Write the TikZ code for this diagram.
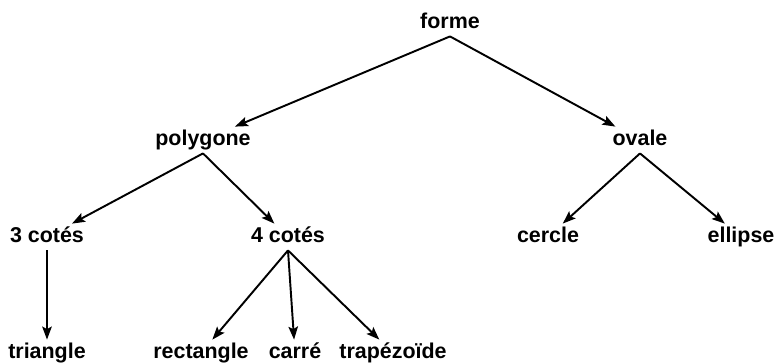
\documentclass[tikz,border=0pt]{standalone}
\usepackage{fontspec}
\setmainfont{Liberation Sans}
\usetikzlibrary{arrows.meta,positioning}
\tikzset{
	concept/.style={
		font=\bfseries\fontsize{12.2}{14}\selectfont,
		text height=1.5ex,
		text depth=.25ex,
		inner xsep=2pt,
		inner ysep=3pt,
		outer sep=0pt,
	},
}

\begin{document}
\begin{tikzpicture}[on grid,>={Stealth[length=2.6mm,width=1.9mm,inset=0.5mm]},line width=1.1pt]
	\useasboundingbox (0,0) rectangle (15.5,-7.26);
	\node [concept] (forme) at (9,-0.46) {forme};
	
	\node [concept] (polygone) [below left=2.34cm and 4.94cm of forme] {polygone};
	\node [concept] (ovale) [below right=2.34cm and 3.8cm of forme] {ovale};
	
	\node [concept] (3cotes) [below left=1.94cm and 3.12cm of polygone] {3 cotés};
	\node [concept] (4cotes) [below right=1.94cm and 1.7cm of polygone] {4 cotés};
	\node [concept] (cercle) [below left=1.94cm and 1.84cm of ovale] {cercle};
	\node [concept] (ellipse) [below right=1.94cm and 2.02cm of ovale] {ellipse};
	
	\node [concept] (triangle) [below=2.32cm of 3cotes] {triangle};
	\node [concept] (rectangle) [below left=2.32cm and 1.74cm of 4cotes] {rectangle};
	\node [concept] (carre) [below right=2.32cm and 0.14cm of 4cotes] {carré};
	\node [concept] (trapezoide) [below right=2.32cm and 2.1cm of 4cotes] {trapézoïde};
	
	\path[->] (forme.south) edge (polygone);
	\path[->] (forme.south) edge (ovale);
	\path[->] (polygone.south) edge (3cotes);
	\path[->] (polygone.south) edge (4cotes);
	\path[->] (ovale.south) edge (cercle);
	\path[->] (ovale.south) edge (ellipse);
	\path[->] (3cotes.south) edge (triangle);
	\path[->] (4cotes.south) edge (rectangle);
	\path[->] (4cotes.south) edge (carre);
	\path[->] (4cotes.south) edge (trapezoide);
\end{tikzpicture}
\end{document}
